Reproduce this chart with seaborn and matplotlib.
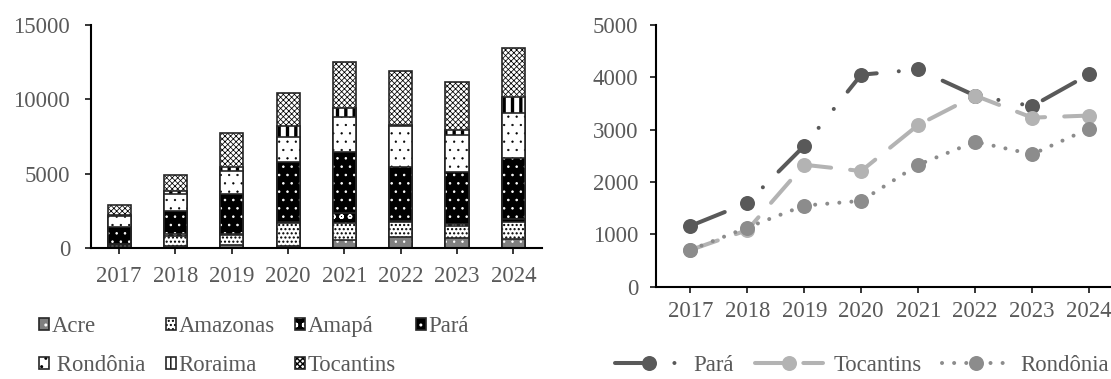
import matplotlib
matplotlib.use("Agg")
import matplotlib.pyplot as plt
from matplotlib.patches import Patch
import pandas as pd
import seaborn as sns

# ---- data -------------------------------------------------------------
years = [2017, 2018, 2019, 2020, 2021, 2022, 2023, 2024]
year_labels = [str(y) for y in years]

states = ["Acre", "Amazonas", "Amapá", "Pará", "Rondônia", "Roraima", "Tocantins"]
acre = [50, 110, 225, 157, 540, 720, 675, 630]
amazonas = [150, 700, 630, 1540, 1120, 1000, 809, 1150]
amapa = [80, 100, 100, 50, 680, 80, 150, 200]
para = [1160, 1600, 2690, 4050, 4150, 3650, 3450, 4060]
rondonia = [700, 1130, 1550, 1640, 2330, 2770, 2530, 3020]
roraima = [60, 200, 225, 790, 600, 20, 350, 1100]
tocantins = [700, 1080, 2330, 2210, 3090, 3650, 3230, 3270]

left_yticks = [0, 5000, 10000, 15000]
right_yticks = [0, 1000, 2000, 3000, 4000, 5000]

# ---- styling ----------------------------------------------------------
sns.set_theme(style="ticks")
plt.rcParams["font.family"] = ["Liberation Serif", "DejaVu Serif"]
TXT = "#595959"
FS = 16.4
EDGE = "#262626"

# face colour, hatch pattern, hatch colour, hatch line width
bar_style = {
    "Acre": ("#7f7f7f", "..", "white", 0.5),
    "Amazonas": ("white", "....", "black", 1.0),
    "Amapá": ("black", "oo", "white", 1.0),
    "Pará": ("black", "..", "white", 0.6),
    "Rondônia": ("white", "..", "black", 0.4),
    "Roraima": ("white", "||", "black", 2.4),
    "Tocantins": ("white", "xxxxxx", "black", 0.55),
}

fig = plt.figure(figsize=(11.11, 3.79), dpi=100)
W, H = 1111, 379
ax1 = fig.add_axes([91 / W, 1 - 248 / H, 450.5 / W, (248 - 25) / H])
ax2 = fig.add_axes([656 / W, 1 - 286.7 / H, 467.4 / W, (286.7 - 25) / H])

# ---- stacked bars (cumulative, drawn from the top layer down) ---------
bars = pd.DataFrame(
    {"Ano": year_labels, "Acre": acre, "Amazonas": amazonas, "Amapá": amapa,
     "Pará": para, "Rondônia": rondonia, "Roraima": roraima, "Tocantins": tocantins}
)
cum = bars[states].cumsum(axis=1)
cum["Ano"] = year_labels

for name in reversed(states):
    face, hatch, hcol, hlw = bar_style[name]
    n0 = len(ax1.patches)
    with plt.rc_context({"hatch.linewidth": hlw, "hatch.color": hcol}):
        sns.barplot(data=cum, x="Ano", y=name, ax=ax1, color=face, saturation=1,
                    width=0.41, errorbar=None, edgecolor=hcol, linewidth=0,
                    hatch=hatch)
    for p in ax1.patches[n0:]:
        if hasattr(p, "set_hatch_linewidth"):
            p.set_hatch_linewidth(hlw)
        if hasattr(p, "set_hatchcolor"):
            p.set_hatchcolor(hcol)
    sns.barplot(data=cum, x="Ano", y=name, ax=ax1, color=EDGE, fill=False,
                width=0.41, errorbar=None, linewidth=1.2)

ax1.set_xlim(-0.5, 7.5)
ax1.set_ylim(0, 15000)
ax1.set_yticks(left_yticks)
ax1.set_xlabel("")
ax1.set_ylabel("")

# ---- lines ------------------------------------------------------------
lines = pd.DataFrame({"Ano": years, "Pará": para, "Tocantins": tocantins,
                      "Rondônia": rondonia})
line_style = {
    "Pará": ("#595959", (0, (9.25, 5.5, 0.01, 6.0, 0.01, 5.5))),
    "Tocantins": ("#b3b3b3", (0, (7.25, 4.75))),
    "Rondônia": ("#8c8c8c", (0, (0.01, 3.0))),
}
for name in ["Pará", "Tocantins", "Rondônia"]:
    col, ls = line_style[name]
    sns.lineplot(data=lines, x="Ano", y=name, ax=ax2, color=col, linewidth=2.9,
                 linestyle=ls, dash_capstyle="round", marker="o",
                 markersize=10.8, markeredgewidth=0, label=name, clip_on=False)

ax2.set_xlim(2017 - 0.6, 2024 + 0.6)
ax2.set_ylim(0, 5000)
ax2.set_xticks(years)
ax2.set_xticklabels(year_labels)
ax2.set_yticks(right_yticks)
ax2.set_xlabel("")
ax2.set_ylabel("")
if ax2.get_legend() is not None:
    ax2.get_legend().remove()

# ---- axes cosmetics ---------------------------------------------------
for ax in (ax1, ax2):
    sns.despine(ax=ax)
    for s in ("left", "bottom"):
        ax.spines[s].set_linewidth(1.5)
        ax.spines[s].set_color("black")
    ax.tick_params(axis="both", direction="out", length=4.3, width=1.1,
                   color="black", labelcolor=TXT, labelsize=FS)
    ax.grid(False)
    ax.set_facecolor("white")
ax1.tick_params(axis="y", pad=10.8)
ax1.tick_params(axis="x", pad=8.5)
ax2.tick_params(axis="y", pad=8.6)
ax2.tick_params(axis="x", pad=6.0)

# ---- legends ----------------------------------------------------------
def bar_handle(name):
    face, hatch, hcol, hlw = bar_style[name]
    fillp = Patch(facecolor=face, edgecolor=hcol, hatch=hatch, linewidth=0)
    outline = Patch(facecolor="none", edgecolor=EDGE, linewidth=1.2)
    return (fillp, outline)

order = ["Acre", "Rondônia", "Amazonas", "Roraima", "Amapá", "Tocantins", "Pará"]
shown = {"Rondônia": " Rondônia"}
leg1 = fig.legend([bar_handle(n) for n in order], [shown.get(n, n) for n in order],
                  ncol=4, loc="upper left", bbox_to_anchor=(39 / W, 1 - 316 / H),
                  frameon=False, fontsize=FS, labelcolor=TXT, handlelength=0.44,
                  handleheight=0.44, handletextpad=0.1, columnspacing=0.9,
                  labelspacing=0.8, borderpad=0, borderaxespad=0)

h, l = ax2.get_legend_handles_labels()
leg2 = fig.legend(h, l, ncol=3, loc="upper left", bbox_to_anchor=(615 / W, 1 - 355 / H),
                  frameon=False, fontsize=FS, labelcolor=TXT, handlelength=3.0,
                  handletextpad=0.45, columnspacing=0.9, borderpad=0,
                  borderaxespad=0)

fig.savefig("out.png", dpi=100, facecolor="white")
